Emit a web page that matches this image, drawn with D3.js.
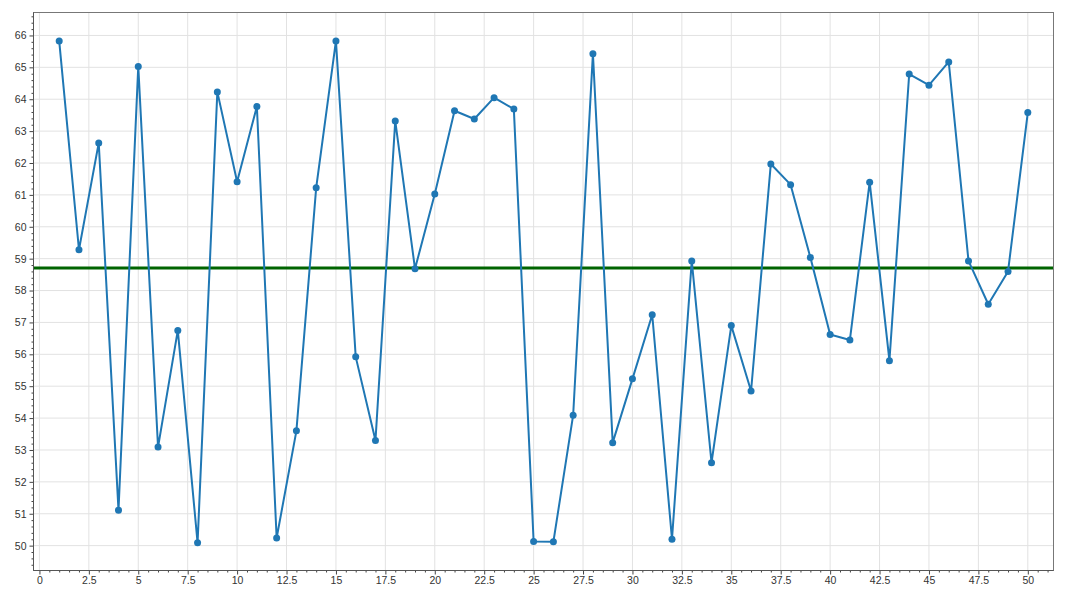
<!DOCTYPE html>
<html>
<head>
<meta charset="utf-8">
<script src="https://cdn.jsdelivr.net/npm/d3@7"></script>
<style>
  html, body { margin: 0; padding: 0; background: #fff; }
  svg { display: block; font-family: "Noto Sans", "DejaVu Sans", sans-serif; }
</style>
</head>
<body>
<svg id="chart" width="1066" height="600"></svg>
<script>
const xValues = d3.range(1, 51);
const yValues = [
  65.83, 59.28, 62.63, 51.11, 65.03, 53.09, 56.75, 50.09, 64.23, 61.41,
  63.77, 50.24, 53.60, 61.22, 65.83, 55.92, 53.30, 63.32, 58.68, 61.03,
  63.64, 63.38, 64.05, 63.69, 50.13, 50.12, 54.09, 65.43, 53.23, 55.23,
  57.24, 50.20, 58.93, 52.60, 56.90, 54.85, 61.97, 61.32, 59.04, 56.62,
  56.45, 61.40, 55.80, 64.79, 64.44, 65.17, 58.93, 57.57, 58.60, 63.58
];
const meanValue = 58.71;
const xTicks = [0, 2.5, 5, 7.5, 10, 12.5, 15, 17.5, 20, 22.5, 25, 27.5, 30, 32.5, 35, 37.5, 40, 42.5, 45, 47.5, 50];
const yTicks = [50, 51, 52, 53, 54, 55, 56, 57, 58, 59, 60, 61, 62, 63, 64, 65, 66];

const data = xValues.map((x, i) => ({ x, y: yValues[i] }));

const svg = d3.select("#chart");
const L = 33.5, R = 1053.5, T = 12.5, B = 570.5;

const x = d3.scaleLinear().domain([-0.3, 51.3]).range([L, R]);
const y = d3.scaleLinear().domain([49.22, 66.72]).range([B, T]);

// grid
const grid = svg.append("g");
grid.selectAll("line.gx").data(xTicks).join("line")
  .attr("x1", d => x(d)).attr("x2", d => x(d))
  .attr("y1", T).attr("y2", B)
  .attr("stroke", "#e2e2e2").attr("stroke-width", 1);
grid.selectAll("line.gy").data(yTicks).join("line")
  .attr("y1", d => y(d)).attr("y2", d => y(d))
  .attr("x1", L).attr("x2", R)
  .attr("stroke", "#e2e2e2").attr("stroke-width", 1);

// mean line
svg.append("line")
  .attr("x1", L).attr("x2", R)
  .attr("y1", y(meanValue)).attr("y2", y(meanValue))
  .attr("stroke", "#006400").attr("stroke-width", 3);

// series
const line = d3.line().x(d => x(d.x)).y(d => y(d.y));
svg.append("path").datum(data)
  .attr("fill", "none").attr("stroke", "#1f77b4").attr("stroke-width", 2)
  .attr("stroke-linejoin", "round")
  .attr("d", line);
svg.append("g").selectAll("circle").data(data).join("circle")
  .attr("cx", d => x(d.x)).attr("cy", d => y(d.y)).attr("r", 3.5)
  .attr("fill", "#1f77b4");

// frame
svg.append("rect")
  .attr("x", L).attr("y", T).attr("width", R - L).attr("height", B - T)
  .attr("fill", "none").attr("stroke", "#777").attr("stroke-width", 1);

// axes
const xMinor = d3.range(0, 51.01, 0.5).filter(v => !xTicks.includes(v));
const yMinor = d3.range(49.4, 66.71, 0.2).map(v => Math.round(v * 10) / 10).filter(v => !yTicks.includes(v));

const xAxis = d3.axisBottom(x).tickValues(xTicks).tickSize(4).tickPadding(2)
  .tickFormat(d => String(d));
const gx = svg.append("g").attr("transform", `translate(0,${B})`).call(xAxis);
gx.select(".domain").remove();
gx.selectAll("line").attr("stroke", "#444");
gx.selectAll("text").attr("fill", "#333").attr("font-size", 10.5);
const xAxisMinor = d3.axisBottom(x).tickValues(xMinor).tickSize(2).tickFormat("");
const gxm = svg.append("g").attr("transform", `translate(0,${B})`).call(xAxisMinor);
gxm.select(".domain").remove();
gxm.selectAll("line").attr("stroke", "#444");

const yAxis = d3.axisLeft(y).tickValues(yTicks).tickSize(4).tickPadding(3)
  .tickFormat(d => String(d));
const gy = svg.append("g").attr("transform", `translate(${L},0)`).call(yAxis);
gy.select(".domain").remove();
gy.selectAll("line").attr("stroke", "#444");
gy.selectAll("text").attr("fill", "#333").attr("font-size", 10.5);
const yAxisMinor = d3.axisLeft(y).tickValues(yMinor).tickSize(2).tickFormat("");
const gym = svg.append("g").attr("transform", `translate(${L},0)`).call(yAxisMinor);
gym.select(".domain").remove();
gym.selectAll("line").attr("stroke", "#444");

// darker left/bottom spines
svg.append("line").attr("x1", L).attr("x2", L).attr("y1", T).attr("y2", B).attr("stroke", "#555");
svg.append("line").attr("x1", L).attr("x2", R).attr("y1", B).attr("y2", B).attr("stroke", "#555");
</script>
</body>
</html>
